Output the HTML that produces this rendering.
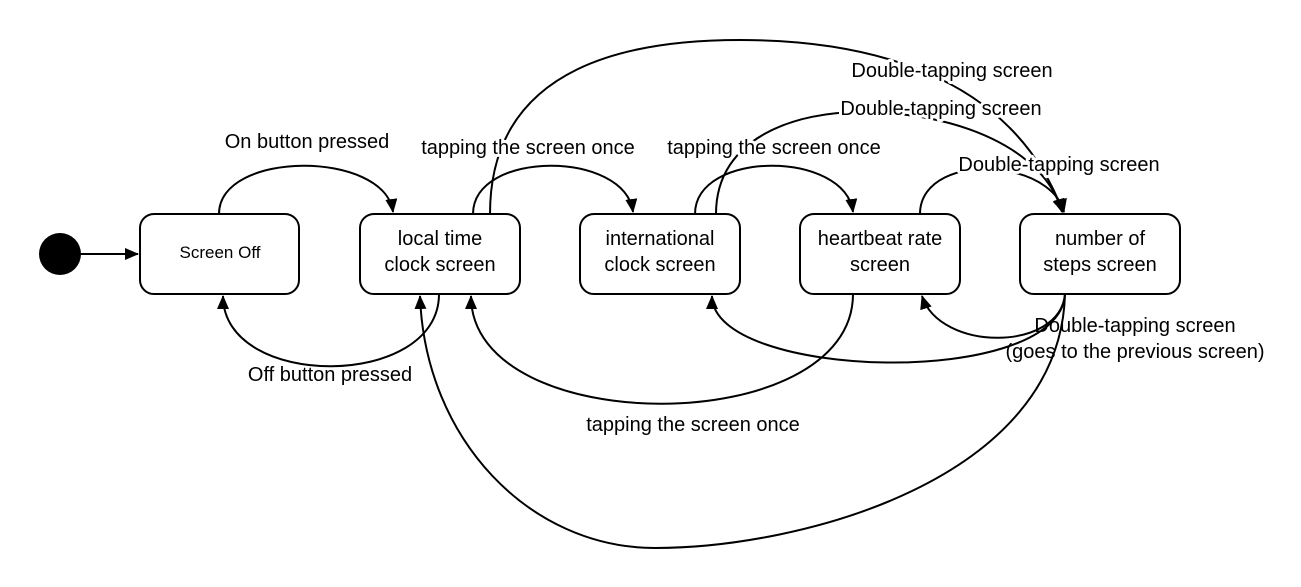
<!DOCTYPE html>
<html><head><meta charset="utf-8"><style>
html,body{margin:0;padding:0;background:#fff;}
svg{display:block;}
text{font-family:"Liberation Sans",sans-serif;font-size:20px;fill:#000;}
.h{paint-order:stroke;stroke:#fff;stroke-width:6px;stroke-linejoin:round;}
</style></head><body>
<svg width="1301" height="587" viewBox="0 0 1301 587" xmlns="http://www.w3.org/2000/svg">
<defs><marker id="a" markerWidth="16" markerHeight="14" refX="13" refY="6" orient="auto" markerUnits="userSpaceOnUse"><path d="M0,0 L14,6 L0,12 z" fill="#000"/></marker></defs>
<g fill="none" stroke="#000" stroke-width="2">
<line x1="80" y1="254" x2="138" y2="254" marker-end="url(#a)"/>
<path d="M219,214 C219,150 385,150 393,212" marker-end="url(#a)"/>
<path d="M439,294 C439,390 223,390 223,296" marker-end="url(#a)"/>
<path d="M473,214 C473,150 625,150 633,212" marker-end="url(#a)"/>
<path d="M490,214 C490,60 640,40 740,40 C860,40 1010,70 1063,212" marker-end="url(#a)"/>
<path d="M695,214 C695,150 845,150 853,212" marker-end="url(#a)"/>
<path d="M716,214 C716,135 800,112 860,112 C960,112 1045,150 1062,212" marker-end="url(#a)"/>
<path d="M920,214 C920,180 960,165 1000,170 C1040,175 1060,195 1064,212" marker-end="url(#a)"/>
<path d="M853,294 C853,440 471,440 471,296" marker-end="url(#a)"/>
<path d="M1065,294 C1060,352 940,352 922,296" marker-end="url(#a)"/>
<path d="M1065,294 C1060,390 712,380 712,296" marker-end="url(#a)"/>
<path d="M1065,294 C1060,480 800,548 655,548 C530,548 425,440 420,296" marker-end="url(#a)"/>
</g>
<circle cx="60" cy="254" r="21" fill="#000"/>
<g fill="#fff" stroke="#000" stroke-width="2">
<rect x="140" y="214" width="159" height="80" rx="14"/>
<rect x="360" y="214" width="160" height="80" rx="14"/>
<rect x="580" y="214" width="160" height="80" rx="14"/>
<rect x="800" y="214" width="160" height="80" rx="14"/>
<rect x="1020" y="214" width="160" height="80" rx="14"/>
</g>
<g text-anchor="middle">
<text x="220" y="258" style="font-size:17px">Screen Off</text>
<text x="440" y="245">local time</text><text x="440" y="271">clock screen</text>
<text x="660" y="245">international</text><text x="660" y="271">clock screen</text>
<text x="880" y="245">heartbeat rate</text><text x="880" y="271">screen</text>
<text x="1100" y="245">number of</text><text x="1100" y="271">steps screen</text>
<text x="307" y="148">On button pressed</text>
<text x="528" y="154" class="h">tapping the screen once</text>
<text x="774" y="154" class="h">tapping the screen once</text>
<text x="952" y="77" class="h">Double-tapping screen</text>
<text x="941" y="115" class="h">Double-tapping screen</text>
<text x="1059" y="171" class="h">Double-tapping screen</text>
<text x="330" y="381">Off button pressed</text>
<text x="693" y="431">tapping the screen once</text>
<text x="1135" y="332">Double-tapping screen</text>
<text x="1135" y="358">(goes to the previous screen)</text>
</g>
</svg>
</body></html>
